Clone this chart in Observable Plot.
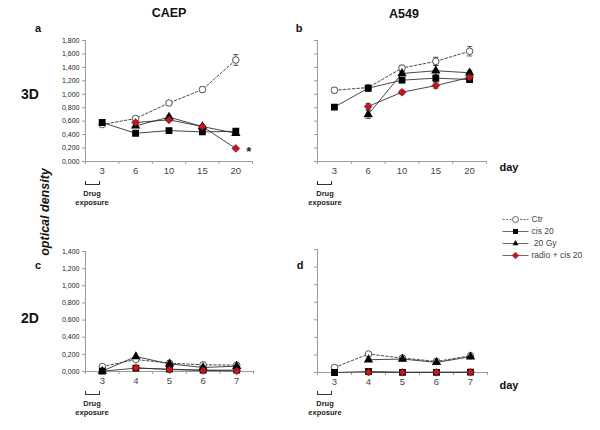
<!DOCTYPE html>
<html><head><meta charset="utf-8">
<script src="https://cdn.jsdelivr.net/npm/d3@7"></script>
<script src="https://cdn.jsdelivr.net/npm/@observablehq/plot@0.6"></script>
<style>
body{margin:0;background:#fff;}
#wrap{position:relative;width:600px;height:430px;overflow:hidden;font-family:"Liberation Sans",Arial,sans-serif;color:#111;}
#wrap svg{overflow:visible;}
.abs{position:absolute;white-space:nowrap;}
.lab{position:absolute;white-space:nowrap;transform:translate(-50%,-50%);}
.bracket{position:absolute;border:1px solid #333;border-top:none;height:3px;}
</style></head><body><div id="wrap"></div>
<script>
// ---------- data ----------
const seriesNames = ["Ctr", "cis 20", "20 Gy", "radio + cis 20"];
const days3D = [3, 6, 10, 15, 20];
const days2D = [3, 4, 5, 6, 7];
const yTicks3D = [0, 0.2, 0.4, 0.6, 0.8, 1.0, 1.2, 1.4, 1.6, 1.8];
const yTicks2D = [0, 0.2, 0.4, 0.6, 0.8, 1.0, 1.2, 1.4];

// CAEP 3D (panel a)
const caep3D_ctr = [0.55, 0.64, 0.87, 1.07, 1.51];
const caep3D_cis = [0.58, 0.42, 0.46, 0.44, 0.45];
const caep3D_gy  = [null, 0.53, 0.66, 0.52, 0.42];
const caep3D_rc  = [null, 0.58, 0.62, 0.52, 0.195];
const caep3D_ctrErr = [0.02, 0.02, 0.03, 0.04, 0.08];
const caep3D_cisErr = [0.02, 0.02, 0.02, 0.02, 0.02];
const caep3D_gyErr  = [null, 0.02, 0.03, 0.02, 0.02];
const caep3D_rcErr  = [null, 0.02, 0.02, 0.02, 0.01];

// A549 3D (panel b)
const a5493D_ctr = [1.06, 1.10, 1.39, 1.49, 1.64];
const a5493D_cis = [0.81, 1.09, 1.21, 1.24, 1.22];
const a5493D_gy  = [null, 0.70, 1.31, 1.35, 1.32];
const a5493D_rc  = [null, 0.82, 1.03, 1.13, 1.25];
const a5493D_ctrErr = [0.04, 0.03, 0.04, 0.06, 0.07];
const a5493D_cisErr = [0.02, 0.04, 0.04, 0.05, 0.04];
const a5493D_gyErr  = [null, 0.06, 0.03, 0.08, 0.03];
const a5493D_rcErr  = [null, 0.04, 0.03, 0.04, 0.03];

// CAEP 2D (panel c)
const caep2D_ctr = [0.058, 0.140, 0.097, 0.078, 0.074];
const caep2D_cis = [0.004, 0.039, 0.027, 0.016, 0.016];
const caep2D_gy  = [0.005, 0.174, 0.089, 0.047, 0.062];
const caep2D_rc  = [null, 0.043, 0.023, 0.012, 0.008];

// A549 2D (panel d)
const a5492D_ctr = [0.057, 0.210, 0.164, 0.126, 0.191];
const a5492D_cis = [0.000, 0.011, 0.002, 0.002, 0.004];
const a5492D_gy  = [null, 0.145, 0.153, 0.115, 0.179];
const a5492D_rc  = [null, 0.004, 0.002, 0.002, 0.003];

// ---------- helpers ----------
const wrap = document.getElementById("wrap");
function label(text, x, y, css) {
  const d = document.createElement("div");
  d.className = "lab";
  d.textContent = text;
  d.style.left = x + "px";
  d.style.top = y + "px";
  Object.assign(d.style, css || {});
  wrap.appendChild(d);
  return d;
}
function place(el, left, top) {
  const d = document.createElement("div");
  d.className = "abs";
  d.style.left = left + "px";
  d.style.top = top + "px";
  d.appendChild(el);
  wrap.appendChild(d);
}
const fmt = d => d.toFixed(3).replace(".", ",");

function panel(cfg) {
  const {days, yMax, yTicks, values, errors, showYLabels, width, height, mt, mr, mb, ml, star} = cfg;
  const rows = [];
  seriesNames.forEach((s, k) => values[k].forEach((v, i) => {
    if (v != null) rows.push({s, i, x: i + 0.5, y: v, e: errors && errors[k][i] ? errors[k][i] : 0});
  }));
  const errRows = rows.filter(d => d.e > 0);
  const capRows = errRows.flatMap(d => [{x: d.x, cy: d.y - d.e}, {x: d.x, cy: d.y + d.e}]);
  const marks = [
    Plot.ruleY([0], {stroke: "#9a9a9a"}),
    Plot.ruleX([0], {stroke: "#9a9a9a"}),
    Plot.axisY({ticks: yTicks, tickSize: 3, tickPadding: 3, tickFormat: showYLabels ? fmt : () => "",
      fontSize: 7, label: null, stroke: "#9a9a9a", fill: "#222"}),
    Plot.axisX({ticks: d3.range(0, days.length + 1), tickSize: 3, tickFormat: () => "", label: null, stroke: "#9a9a9a"}),
    Plot.axisX({ticks: days.map((d, i) => i + 0.5), tickSize: 0, tickPadding: 6,
      tickFormat: v => String(days[Math.round(v - 0.5)]), fontSize: 9.5, label: null, fill: "#444"}),
    Plot.line(rows.filter(d => d.s !== "Ctr"), {x: "x", y: "y", z: "s", stroke: "#333", strokeWidth: 0.9}),
    Plot.line(rows.filter(d => d.s === "Ctr"), {x: "x", y: "y", stroke: "#333", strokeWidth: 0.9, strokeDasharray: "2.5,2"}),
    Plot.ruleX(errRows, {x: "x", y1: d => d.y - d.e, y2: d => d.y + d.e, stroke: "#333", strokeWidth: 0.8}),
    Plot.link(capRows, {x1: d => d.x - 0.08, x2: d => d.x + 0.08, y1: "cy", y2: "cy", stroke: "#333", strokeWidth: 0.8}),
    Plot.dot(rows.filter(d => d.s === "Ctr"), {x: "x", y: "y", r: 3.3, symbol: "circle", fill: "white", stroke: "#444", strokeWidth: 0.9}),
    Plot.dot(rows.filter(d => d.s === "cis 20"), {x: "x", y: "y", r: 3.0, symbol: "square", fill: "#000", stroke: "#000"}),
    Plot.dot(rows.filter(d => d.s === "20 Gy"), {x: "x", y: "y", r: 2.5, symbol: "triangle", fill: "#000", stroke: "#000"}),
    Plot.dot(rows.filter(d => d.s === "radio + cis 20"), {x: "x", y: "y", r: 3.5, symbol: "diamond2", fill: "#c4161c", stroke: "#5a0a0a", strokeWidth: 0.6})
  ];
  if (star) {
    marks.push(Plot.text(rows.filter(d => d.s === "radio + cis 20" && d.i === days.length - 1),
      {x: "x", y: "y", text: () => "*", dx: 13, dy: 3, fontSize: 13, fontWeight: "bold", fill: "#222"}));
  }
  return Plot.plot({
    width, height, marginTop: mt, marginRight: mr, marginBottom: mb, marginLeft: ml,
    style: {fontFamily: "Liberation Sans, Arial, sans-serif", background: "transparent"},
    x: {type: "linear", domain: [0, days.length], axis: null},
    y: {domain: [0, yMax], axis: null},
    marks
  });
}

// ---------- panels ----------
place(panel({days: days3D, yMax: 1.8, yTicks: yTicks3D,
  values: [caep3D_ctr, caep3D_cis, caep3D_gy, caep3D_rc],
  errors: [caep3D_ctrErr, caep3D_cisErr, caep3D_gyErr, caep3D_rcErr],
  showYLabels: true, width: 300, height: 220, mt: 40, mr: 48, mb: 59, ml: 85, star: true}), 0, 0);

place(panel({days: days3D, yMax: 1.8, yTicks: yTicks3D,
  values: [a5493D_ctr, a5493D_cis, a5493D_gy, a5493D_rc],
  errors: [a5493D_ctrErr, a5493D_cisErr, a5493D_gyErr, a5493D_rcErr],
  showYLabels: false, width: 300, height: 220, mt: 40, mr: 114, mb: 59, ml: 17}), 300, 0);

place(panel({days: days2D, yMax: 1.4, yTicks: yTicks2D,
  values: [caep2D_ctr, caep2D_cis, caep2D_gy, caep2D_rc],
  errors: null,
  showYLabels: true, width: 300, height: 210, mt: 31, mr: 47, mb: 59, ml: 85}), 0, 220);

place(panel({days: days2D, yMax: 1.4, yTicks: yTicks2D,
  values: [a5492D_ctr, a5492D_cis, a5492D_gy, a5492D_rc],
  errors: null,
  showYLabels: false, width: 300, height: 210, mt: 29, mr: 113, mb: 58, ml: 17}), 300, 220);

// ---------- legend ----------
const legendRows = seriesNames.map(s => ({s}));
const legend = Plot.plot({
  width: 105, height: 70, margin: 0,
  style: {fontFamily: "Liberation Sans, Arial, sans-serif", background: "transparent"},
  x: {domain: [0, 105], range: [0, 105], axis: null},
  y: {type: "point", domain: seriesNames, range: [10, 58], axis: null},
  marks: [
    Plot.link(legendRows.filter(d => d.s === "Ctr"), {x1: 7, x2: 33, y1: "s", y2: "s", stroke: "#444", strokeWidth: 0.8, strokeDasharray: "2,1.5"}),
    Plot.link(legendRows.filter(d => d.s !== "Ctr"), {x1: 7, x2: 33, y1: "s", y2: "s", stroke: "#444", strokeWidth: 0.8}),
    Plot.dot(legendRows.filter(d => d.s === "Ctr"), {x: 20, y: "s", r: 3, symbol: "circle", fill: "white", stroke: "#444", strokeWidth: 0.8}),
    Plot.dot(legendRows.filter(d => d.s === "cis 20"), {x: 20, y: "s", r: 2.8, symbol: "square", fill: "#000"}),
    Plot.dot(legendRows.filter(d => d.s === "20 Gy"), {x: 20, y: "s", r: 2.2, symbol: "triangle", fill: "#000"}),
    Plot.dot(legendRows.filter(d => d.s === "radio + cis 20"), {x: 20, y: "s", r: 3, symbol: "diamond2", fill: "#c4161c", stroke: "#7a0a0a", strokeWidth: 0.5}),
    Plot.text(legendRows, {x: 36, y: "s", text: d => d.s === "20 Gy" ? "\u00a020 Gy" : d.s, textAnchor: "start", fontSize: 8.5, fill: "#444"})
  ]
});
place(legend, 495, 203);

// ---------- text annotations ----------
label("CAEP", 169, 13, {fontWeight: "bold", fontSize: "12.5px"});
label("A549", 404, 14, {fontWeight: "bold", fontSize: "12.5px"});
label("a", 38, 28, {fontWeight: "bold", fontSize: "11px"});
label("b", 299, 28, {fontWeight: "bold", fontSize: "11px"});
label("c", 38, 265, {fontWeight: "bold", fontSize: "11px"});
label("d", 300, 265, {fontWeight: "bold", fontSize: "11px"});
label("3D", 30, 94, {fontWeight: "bold", fontSize: "14px"});
label("2D", 30, 318, {fontWeight: "bold", fontSize: "14px"});
label("optical density", 45, 212, {fontWeight: "bold", fontStyle: "italic", fontSize: "12.5px",
  transform: "translate(-50%,-50%) rotate(-90deg)"});
label("day", 509, 167, {fontWeight: "bold", fontSize: "11px"});
label("day", 509, 385, {fontWeight: "bold", fontSize: "11px"});

function drug(x, top, cx) {
  const b = document.createElement("div");
  b.className = "bracket";
  b.style.left = x + "px";
  b.style.top = top + "px";
  b.style.width = "13px";
  wrap.appendChild(b);
  label("Drug", cx, top + 12, {fontWeight: "bold", fontSize: "7.5px", color: "#222"});
  label("exposure", cx, top + 21, {fontWeight: "bold", fontSize: "7.5px", color: "#222"});
}
drug(85, 181, 92);
drug(317, 181, 325);
drug(85, 391, 92);
drug(317, 391, 325);
</script></body></html>
